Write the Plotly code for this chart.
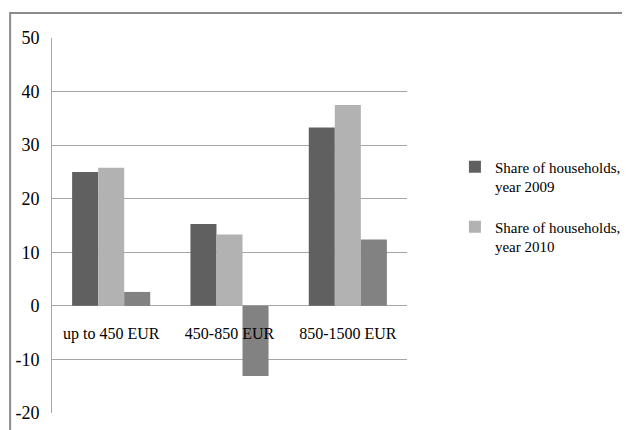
import plotly.graph_objects as go

categories = ["up to 450 EUR", "450-850 EUR", "850-1500 EUR"]
share_2009 = [25.0, 15.3, 33.3]
share_2010 = [25.8, 13.3, 37.5]
third_series = [2.6, -13.1, 12.4]
y_ticks = [-20, -10, 0, 10, 20, 30, 40, 50]
y_tick_labels = ["-20", "-10", "0", "10", "20", "30", "40", "50"]

FONT = "Liberation Serif"

fig = go.Figure()
fig.add_bar(x=categories, y=share_2009, name="Share of households,<br>year 2009",
            legendgroup="a",
            marker=dict(color="#606060", line=dict(width=0)))
fig.add_bar(x=categories, y=share_2010, name="Share of households,<br>year 2010",
            legendgroup="b",
            marker=dict(color="#b2b2b2", line=dict(width=0)))
fig.add_bar(x=categories, y=third_series, name="", showlegend=False,
            legendgroup="c",
            marker=dict(color="#828282", line=dict(width=0)))

ymin, ymax = -20, 50

fig.update_layout(
    width=622, height=422,
    margin=dict(l=44, r=223, t=30, b=17, autoexpand=False),
    paper_bgcolor="white", plot_bgcolor="white",
    barmode="group", bargap=0.34, bargroupgap=0,
    font=dict(family=FONT, size=16, color="#000000"),
    showlegend=True,
    legend=dict(x=1.135, y=0.70, xanchor="left", yanchor="top",
                font=dict(family=FONT, size=15), valign="top",
                itemwidth=30, tracegroupgap=18, bgcolor="rgba(0,0,0,0)"),
    xaxis=dict(anchor="free", position=(0 - ymin) / (ymax - ymin),
               showline=False, showgrid=False, ticks="", zeroline=False,
               ticklabelstandoff=16,
               tickfont=dict(family=FONT, size=16)),
    yaxis=dict(range=[ymin, ymax], tickvals=y_ticks, ticktext=y_tick_labels,
               showgrid=True, gridcolor="#a6a6a6", gridwidth=1, zeroline=True,
               zerolinecolor="#a6a6a6", zerolinewidth=1,
               showline=True, linecolor="#a6a6a6", linewidth=1,
               ticks="", ticklabelstandoff=8, tickfont=dict(family=FONT, size=18)),
)

# outer frame (top and left edges)
fig.add_shape(type="path", xref="paper", yref="paper",
              path="M -0.118,-0.1 L -0.118,1.067 L 1.7,1.067",
              line=dict(color="#8c8c8c", width=2))

fig.write_html("out.html")
